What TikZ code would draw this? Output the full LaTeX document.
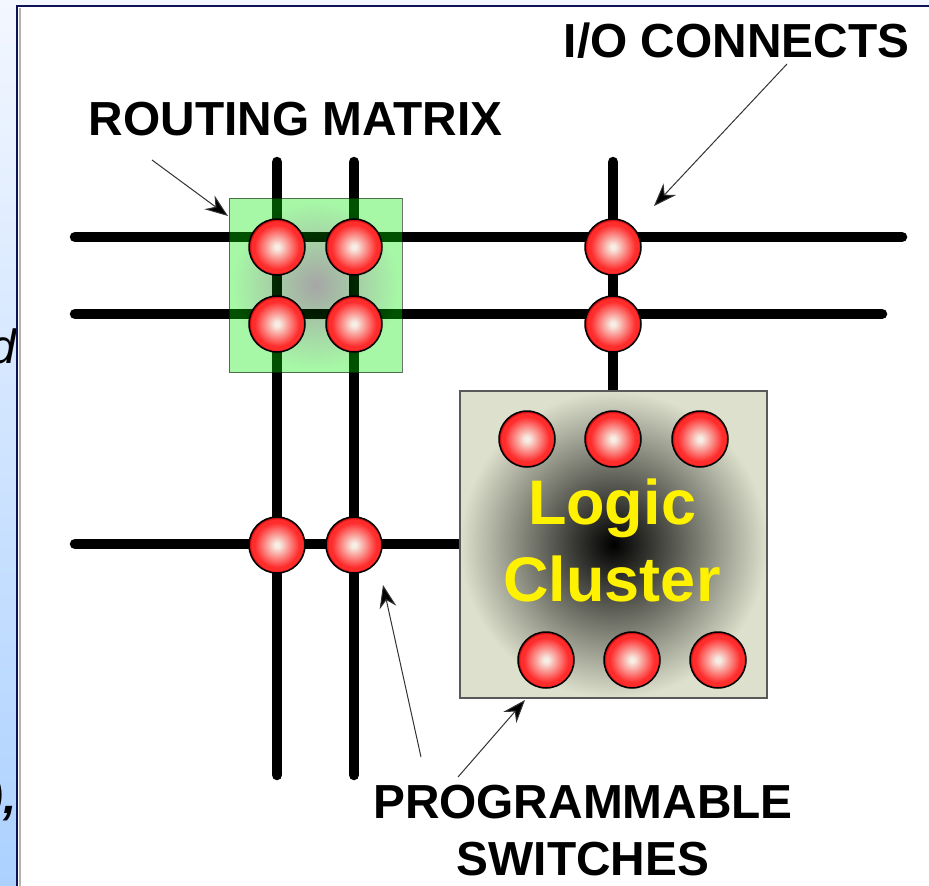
\documentclass[tikz,border=0pt]{standalone}
\usepackage{xcolor}
\usepackage{fontspec}
\setmainfont{Liberation Sans}
\usetikzlibrary{arrows.meta}
\definecolor{framenavy}{RGB}{12,18,84}
\definecolor{stripetop}{RGB}{243,247,255}
\definecolor{stripebottom}{RGB}{172,209,255}
\definecolor{clustertan}{RGB}{221,224,204}
\definecolor{ballred}{RGB}{255,44,44}
\definecolor{ballcore}{RGB}{246,238,228}
\pgfdeclareradialshading{switchball}{\pgfpointorigin}{%
	color(0bp)=(ballcore);
	color(2bp)=(ballcore);
	color(20bp)=(ballred);
	color(23bp)=(ballred);
	color(25bp)=(red!70!black);
	color(50bp)=(red!70!black)}
\pgfdeclareradialshading{routingglow}{\pgfpointorigin}{%
	color(0bp)=(black);
	color(24bp)=(green!92!black);
	color(50bp)=(green!92!black)}
\pgfdeclareradialshading{clusterglow}{\pgfpointorigin}{%
	color(0bp)=(black);
	color(25bp)=(clustertan);
	color(50bp)=(clustertan)}
\tikzset{
	wire/.style={line width=10.5pt,line cap=round},
	switch/.style={circle,draw=black,line width=1.5pt,inner sep=0pt,outer sep=0pt,
			minimum size=56pt,shading=switchball},
	pointer/.style={-{Stealth[length=23pt,width=17pt,fill=black]},line width=1pt,draw=black!80},
	caption/.style={anchor=base,inner sep=0pt,font=\fontsize{47.8}{50}\selectfont\bfseries},
	clustertext/.style={anchor=base,inner sep=0pt,text=yellow,font=\fontsize{63}{66}\selectfont\bfseries},
	cuttext/.style={anchor=base east,inner sep=0pt,font=\fontsize{48}{50}\selectfont\itshape}
}

\begin{document}
\begin{tikzpicture}[x=1pt,y=-1pt]
        \useasboundingbox (0,0) rectangle (929,886);
        % Hintergrund zeichnen
        \shade[top color=stripetop,bottom color=stripebottom] (0,0) rectangle (929,886);
        \begin{scope}
                \clip (0,0) rectangle (16,886);
                \node[cuttext] (cutd) at (16,363) {d};
                \node[cuttext,font=\fontsize{48}{50}\selectfont\itshape\bfseries] (cutcomma) at (17,813) {),};
        \end{scope}
        \fill[white] (17,6) rectangle (929,886);
        \draw[black!30,line width=2pt] (20,8) -- (20,886);
        \draw[framenavy,line width=2.4pt] (929,6) -- (17,6) -- (17,886);
        % Enden der Leitungen
        \coordinate (rowa west) at (75,237);
        \coordinate (rowa east) at (902,237);
        \coordinate (rowb west) at (75,314);
        \coordinate (rowb east) at (882,314);
        \coordinate (rowc west) at (75,544);
        \coordinate (rowc east) at (460,544);
        \coordinate (cola north) at (277,162);
        \coordinate (cola south) at (277,775);
        \coordinate (colb north) at (354,162);
        \coordinate (colb south) at (354,775);
        \coordinate (colc north) at (613,162);
        \coordinate (colc south) at (613,391);
        % Leitungen zeichnen
        \draw[wire] (rowa west) -- (rowa east);
        \draw[wire] (rowb west) -- (rowb east);
        \draw[wire] (rowc west) -- (rowc east);
        \draw[wire] (cola north) -- (cola south);
        \draw[wire] (colb north) -- (colb south);
        \draw[wire] (colc north) -- (colc south);
        % Kaesten zeichnen
        \node[rectangle,minimum width=173pt,minimum height=174pt,inner sep=0pt,outer sep=0pt,
                shading=routingglow,fill opacity=0.35,draw=black,draw opacity=0.55,line width=1pt]
                (routing) at (315.5,285) {};
        \node[rectangle,minimum width=307pt,minimum height=307pt,inner sep=0pt,outer sep=0pt,
                shading=clusterglow,draw=black!65,line width=1.4pt]
                (cluster) at (613.5,544.5) {};
        % Schalter zeichnen
        \node[switch] (swaa) at (277,247) {};
        \node[switch] (swab) at (354,247) {};
        \node[switch] (swac) at (613,247) {};
        \node[switch] (swba) at (277,324) {};
        \node[switch] (swbb) at (354,324) {};
        \node[switch] (swbc) at (613,324) {};
        \node[switch] (swca) at (277,545) {};
        \node[switch] (swcb) at (354,545) {};
        \node[switch] (lga) at (527,439) {};
        \node[switch] (lgb) at (613,439) {};
        \node[switch] (lgc) at (700,439) {};
        \node[switch] (lgd) at (546,660) {};
        \node[switch] (lge) at (632,660) {};
        \node[switch] (lgf) at (718,660) {};
        % Beschriftung
        \node[clustertext] (logic) at (612,524) {Logic};
        \node[clustertext] (clustername) at (612,601) {Cluster};
        \node[caption] (matrixlabel) at (295.5,135) {ROUTING MATRIX};
        \node[caption] (iolabel) at (736.5,57) {I/O CONNECTS};
        \node[caption] (proglabel) at (583,818) {PROGRAMMABLE};
        \node[caption] (switchlabel) at (583,875) {SWITCHES};
        % Pfeile zeichnen
        \coordinate (matrix tail) at (152,160);
        \coordinate (matrix head) at (228,216);
        \coordinate (io tail) at (787,64);
        \coordinate (io head) at (654,206);
        \coordinate (prog tail) at (421,757);
        \coordinate (prog head) at (383,585);
        \coordinate (switch tail) at (458,777);
        \coordinate (switch head) at (525,700);
        \draw[pointer] (matrix tail) -- (matrix head);
        \draw[pointer] (io tail) -- (io head);
        \draw[pointer] (prog tail) -- (prog head);
        \draw[pointer] (switch tail) -- (switch head);
\end{tikzpicture}
\end{document}
